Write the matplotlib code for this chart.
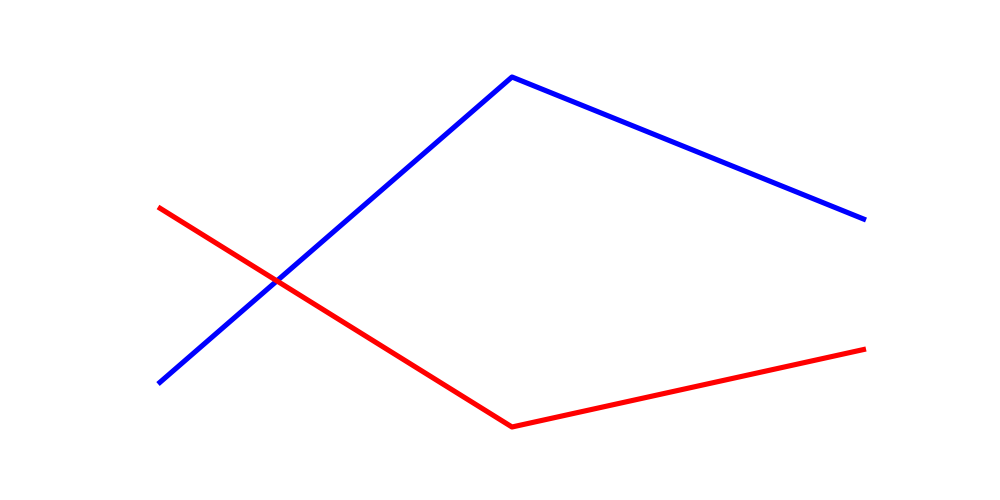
import numpy as np
import matplotlib.pyplot as plt

x = [0, 1, 2]
blue = [116, 423, 280]
red = [293, 73, 151]

fig = plt.figure(figsize=(10, 5), dpi=100)
ax = fig.add_axes([0.158, 0.0, 0.708, 1.0])

ax.plot(x, blue, color='blue', linewidth=3.7, solid_capstyle='butt',
        solid_joinstyle='round', clip_on=False)
ax.plot(x, red, color='red', linewidth=3.7, solid_capstyle='butt',
        solid_joinstyle='round', clip_on=False)

ax.set_xlim(0, 2)
ax.set_ylim(0, 500)
ax.axis('off')

plt.savefig('out.png')
